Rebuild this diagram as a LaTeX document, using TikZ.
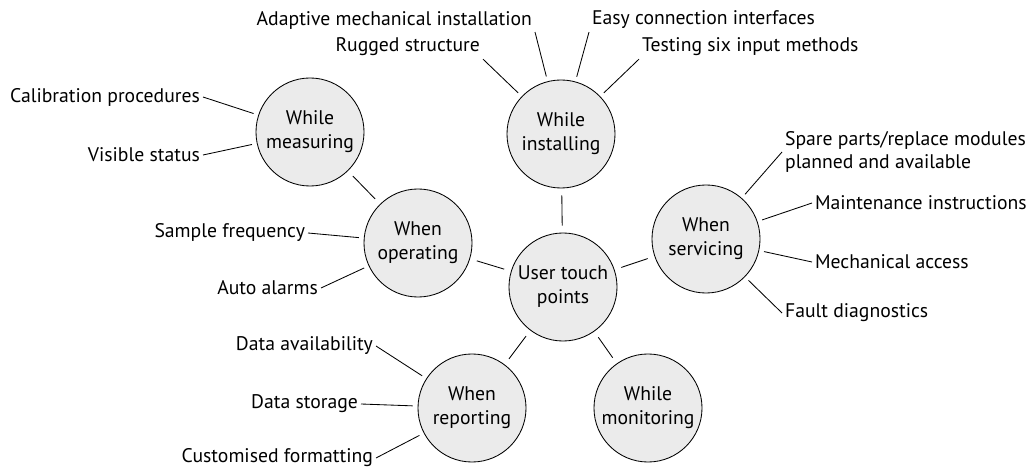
\documentclass[tikz,border=0pt]{standalone}
\usepackage{fontspec}
\setmainfont{PT Sans}
\usetikzlibrary{positioning}

\tikzset{
  stage/.style={circle, draw, line width=0.6pt, fill=black!8, minimum size=2.7cm,
    inner sep=0pt, align=center, font=\fontsize{14}{17}\selectfont},
  aspect/.style={inner sep=2pt, align=left, font=\fontsize{14}{17}\selectfont},
  spoke/.style={line width=0.6pt, shorten >=3.5pt},
  link/.style={line width=0.6pt, shorten <=5pt, shorten >=5pt},
}

\begin{document}
\begin{tikzpicture}[x=0.025cm, y=-0.025cm]
    \useasboundingbox (0,0) rectangle (1032,471);

    % stages round the hub
    \node[stage] (hub) at (563,287) {User touch\\points};
    \node[stage] (install) at (561,134) {While\\installing};
    \node[stage] (measure) at (310,132) {While\\measuring};
    \node[stage] (operate) at (418,243) {When\\operating};
    \node[stage] (service) at (706,239) {When\\servicing};
    \node[stage] (report) at (472,408) {When\\reporting};
    \node[stage] (monitor) at (648,408) {While\\monitoring};

    \draw[link] (hub) -- (install);
    \draw[link] (hub) -- (operate);
    \draw[link] (hub) -- (service);
    \draw[link] (hub) -- (report);
    \draw[link] (hub) -- (monitor);
    \draw[link] (operate) -- (measure);

    % while measuring
    \node[aspect, anchor=east] (calib) at (203,97) {Calibration procedures};
    \node[aspect, anchor=east] (visible) at (203,155) {Visible status};
    \draw[spoke] (calib.east) -- (measure);
    \draw[spoke] (visible.east) -- (measure);

    % while installing
    \node[aspect, anchor=east] (rugged) at (483,47) {Rugged structure};
    \node[aspect, anchor=east] (adaptive) at (535,20) {Adaptive mechanical installation};
    \node[aspect, anchor=west] (easy) at (589,20) {Easy connection interfaces};
    \node[aspect, anchor=west] (testing) at (639,47) {Testing six input methods};
    \draw[spoke] (rugged.south east) -- (install);
    \draw[spoke] (adaptive.south east) -- (install);
    \draw[spoke] (easy.south west) -- (install);
    \draw[spoke] (testing.south west) -- (install);

    % when servicing
    \node[aspect, anchor=west] (spare) at (782,152) {Spare parts/replace modules\\planned and available};
    \node[aspect, anchor=west] (maint) at (812,203) {Maintenance instructions};
    \node[aspect, anchor=west] (mech) at (812,262) {Mechanical access};
    \node[aspect, anchor=west] (fault) at (782,313) {Fault diagnostics};
    \draw[spoke] (spare.west) -- (service);
    \draw[spoke] (maint.west) -- (service);
    \draw[spoke] (mech.west) -- (service);
    \draw[spoke] (fault.west) -- (service);

    % when operating
    \node[aspect, anchor=east] (sample) at (308,233) {Sample frequency};
    \node[aspect, anchor=east] (alarms) at (321,288) {Auto alarms};
    \draw[spoke] (sample.east) -- (operate);
    \draw[spoke] (alarms.east) -- (operate);

    % when reporting
    \node[aspect, anchor=east] (avail) at (376,346) {Data availability};
    \node[aspect, anchor=east] (storage) at (361,404) {Data storage};
    \node[aspect, anchor=east] (format) at (376,458) {Customised formatting};
    \draw[spoke] (avail.east) -- (report);
    \draw[spoke] (storage.east) -- (report);
    \draw[spoke] (format.east) -- (report);
\end{tikzpicture}
\end{document}
